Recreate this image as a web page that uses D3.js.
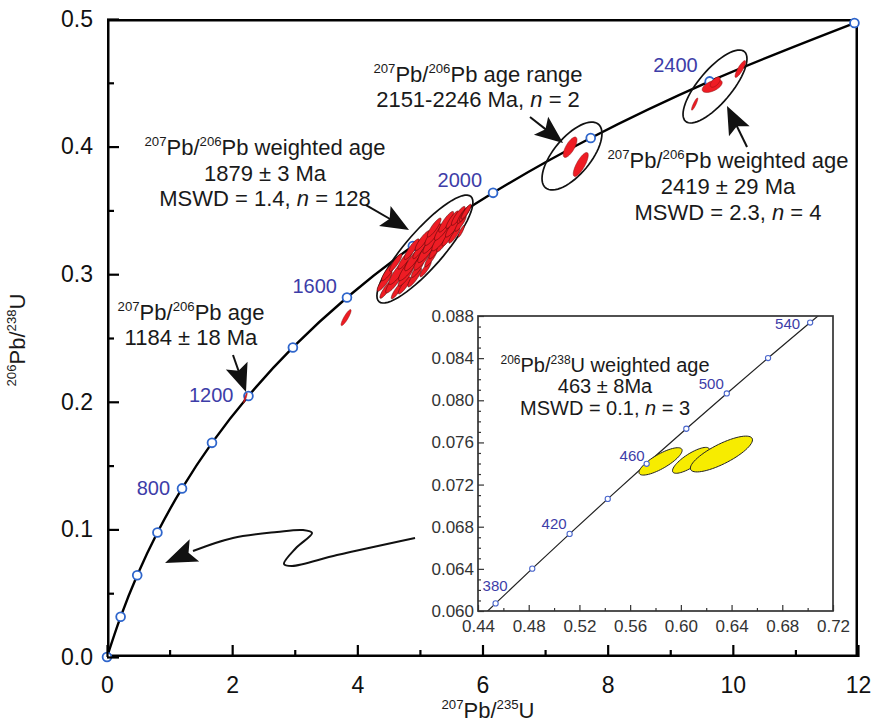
<!doctype html>
<html lang="en">
<head>
<meta charset="utf-8" />
<title>U-Pb concordia</title>
<script src="https://d3js.org/d3.v7.min.js"></script>
<style>
  body { margin: 0; background: #fff; }
  text { font-family: "Liberation Sans", Arial, sans-serif; }
</style>
</head>
<body>
<div id="chart"></div>
<script>
// ---- data ----
// concordia reference points (age Ma, 207Pb/235U, 206Pb/238U)
const cAges = [0, 200, 400, 600, 800, 1000, 1200, 1400, 1600, 1800, 2000, 2200, 2400, 2600];
const c207 = [0, 0.2177, 0.4828, 0.8056, 1.1987, 1.6774, 2.2603, 2.9701, 3.8345, 4.8872, 6.1688, 7.7293, 9.6295, 11.9432];
const c206 = [0, 0.03151, 0.06402, 0.09754, 0.13213, 0.16782, 0.20460, 0.24258, 0.28172, 0.32210, 0.36376, 0.40673, 0.45108, 0.49681];
const cLabelled = [800, 1200, 1600, 2000, 2400];

// inset concordia
const iAges = [360, 380, 400, 420, 440, 460, 480, 500, 520, 540, 560];
const i207 = [0.42553, 0.45387, 0.48279, 0.51226, 0.54234, 0.57302, 0.60431, 0.63622, 0.66877, 0.70197, 0.73588];
const i206 = [0.057434, 0.06072, 0.06402, 0.06732, 0.07064, 0.07397, 0.07730, 0.08065, 0.08401, 0.08738, 0.090755];
const iMarked = [380, 400, 420, 440, 460, 480, 500, 520, 540];
const iLabelled = [380, 420, 460, 500, 540];

// main cluster (~1879 Ma) analyses: x, y, sx, sy
const clX = [4.46, 4.436, 4.632, 4.593, 4.497, 4.754, 4.653, 4.772, 4.614, 4.916, 4.819, 4.767, 4.963, 4.895, 5.091, 4.869, 5.05, 4.997, 5.177, 5.125, 5.044, 5.254, 5.187, 5.366, 5.208, 5.34, 5.228, 5.453, 5.372, 5.55, 5.42, 5.539, 5.518, 5.65, 5.613, 5.697, 5.72, 5.74, 5.66];
const clY = [0.288, 0.2945, 0.287, 0.2943, 0.302, 0.2912, 0.3017, 0.2982, 0.3091, 0.2974, 0.305, 0.3117, 0.3042, 0.3117, 0.3041, 0.3196, 0.3129, 0.3196, 0.3128, 0.3195, 0.3264, 0.3195, 0.3255, 0.3242, 0.3311, 0.3282, 0.3366, 0.3289, 0.3358, 0.3305, 0.3411, 0.3376, 0.3427, 0.3398, 0.3457, 0.3466, 0.3475, 0.349, 0.3336];
const clSx = [0.10, 0.12, 0.09, 0.14, 0.11, 0.10, 0.15, 0.12, 0.10, 0.11, 0.16, 0.12, 0.10, 0.14, 0.09, 0.12, 0.15, 0.11, 0.10, 0.16, 0.12, 0.11, 0.14, 0.10, 0.13, 0.15, 0.11, 0.10, 0.14, 0.09, 0.12, 0.13, 0.10, 0.09, 0.11, 0.10, 0.09, 0.08, 0.05];
const clSy = [0.0069, 0.0078, 0.0063, 0.0090, 0.0071, 0.0067, 0.0098, 0.0076, 0.0069, 0.0074, 0.0101, 0.0078, 0.0067, 0.0090, 0.0062, 0.0081, 0.0097, 0.0074, 0.0069, 0.0104, 0.0078, 0.0074, 0.0092, 0.0067, 0.0085, 0.0099, 0.0074, 0.0069, 0.0092, 0.0062, 0.0081, 0.0085, 0.0069, 0.0062, 0.0074, 0.0067, 0.0062, 0.0058, 0.0046];
const clRho = 0.88;

// other single analyses: x, y, sx, sy, rho
const spX = [2.21, 3.82, 7.40, 7.57, 9.67, 9.72, 10.12, 9.39];
const spY = [0.203, 0.266, 0.3995, 0.386, 0.4474, 0.4505, 0.4608, 0.4333];
const spSx = [0.03, 0.08, 0.11, 0.12, 0.16, 0.08, 0.085, 0.05];
const spSy = [0.0040, 0.0063, 0.0080, 0.0094, 0.0050, 0.0040, 0.0066, 0.0048];
const spRho = [0.9, 0.88, 0.72, 0.78, 0.55, 0.6, 0.85, 0.88];

// group envelopes
const enX = [5.08, 7.43, 9.715];
const enY = [0.3197, 0.3926, 0.4471];
const enSx = [0.767, 0.479, 0.511];
const enSy = [0.0423, 0.0266, 0.0286];
const enRho = [0.866, 0.66, 0.76];

// inset (young) analyses
const yX = [0.584, 0.608, 0.632];
const yY = [0.0742, 0.0743, 0.0749];
const ySx = [0.017, 0.0146, 0.0245];
const ySy = [0.0013, 0.00123, 0.0017];
const yRho = [0.8, 0.8, 0.79];

// axis ticks
const xMajor = [0, 2, 4, 6, 8, 10, 12];
const xMinor = [1, 3, 5, 7, 9, 11];
const yMajor = [0, 0.1, 0.2, 0.3, 0.4, 0.5];
const yMinor = [0.05, 0.15, 0.25, 0.35, 0.45];
const ixMajor = [0.44, 0.48, 0.52, 0.56, 0.60, 0.64, 0.68, 0.72];
const ixMinor = [0.46, 0.50, 0.54, 0.58, 0.62, 0.66, 0.70];
const iyMajor = [0.060, 0.064, 0.068, 0.072, 0.076, 0.080, 0.084, 0.088];
const iyMinor = [0.061, 0.062, 0.063, 0.065, 0.066, 0.067, 0.069, 0.070, 0.071, 0.073, 0.074, 0.075,
  0.077, 0.078, 0.079, 0.081, 0.082, 0.083, 0.085, 0.086, 0.087];

// ---- drawing ----
const W = 872, H = 728;
const svg = d3.select("#chart").append("svg").attr("width", W).attr("height", H);

const x = d3.scaleLinear().domain([0, 12]).range([107, 858]);
const y = d3.scaleLinear().domain([0, 0.5]).range([657, 19]);
const xi = d3.scaleLinear().domain([0.44, 0.72]).range([478, 833]);
const yi = d3.scaleLinear().domain([0.060, 0.088]).range([611, 316]);

const blue = "#3d3da8";
const markBlue = "#2f66cc";

function ellipsePts(cx, cy, sx, sy, rho) {
  const k = Math.sqrt(1 - rho * rho);
  return d3.range(0, 64).map(i => {
    const t = i / 64 * 2 * Math.PI;
    return [cx + sx * Math.cos(t), cy + sy * (rho * Math.cos(t) + k * Math.sin(t))];
  });
}

// rich text: parts are [string, kind] with kind '', 'sup' or 'it'
function rich(g, px, py, parts, size, anchor) {
  const t = g.append("text").attr("x", px).attr("y", py)
    .attr("text-anchor", anchor || "middle")
    .style("font-size", size + "px").attr("fill", "#1a1a1a");
  let raised = false;
  parts.forEach(([s, kind]) => {
    const ts = t.append("tspan").text(s);
    if (kind === "sup") {
      ts.style("font-size", (size * 0.6) + "px");
      if (!raised) { ts.attr("dy", -size * 0.4); raised = true; }
    } else {
      if (raised) { ts.attr("dy", size * 0.4); raised = false; }
      if (kind === "it") ts.style("font-style", "italic");
    }
  });
  return t;
}

function arrowHead(g, tip, from, len, hw) {
  const dx = tip[0] - from[0], dy = tip[1] - from[1];
  const L = Math.hypot(dx, dy), ux = dx / L, uy = dy / L;
  const bx = tip[0] - ux * len, by = tip[1] - uy * len;
  const nx = tip[0] - ux * len * 0.8, ny = tip[1] - uy * len * 0.8;
  g.append("polygon")
    .attr("points", [[tip[0], tip[1]], [bx - uy * hw, by + ux * hw], [nx, ny], [bx + uy * hw, by - ux * hw]].map(p => p.join(",")).join(" "))
    .attr("fill", "#111");
}

// clip for main plot
svg.append("clipPath").attr("id", "mainClip").append("rect")
  .attr("x", 107).attr("y", 19).attr("width", 751).attr("height", 638);

const main = svg.append("g");
const lineG = main.append("g").attr("clip-path", "url(#mainClip)");
const markG = main.append("g");
const plot = main.append("g").attr("clip-path", "url(#mainClip)");

// concordia
const cPts = cAges.map((a, i) => [c207[i], c206[i]]);
lineG.append("path")
  .attr("d", d3.line().x(d => x(d[0])).y(d => y(d[1])).curve(d3.curveCatmullRom.alpha(0.5))(cPts))
  .attr("fill", "none").attr("stroke", "#000").attr("stroke-width", 2.4);

// frame
lineG.append("rect").attr("x", 107).attr("y", 19).attr("width", 751).attr("height", 638)
  .attr("fill", "none").attr("stroke", "#000").attr("stroke-width", 5);

// age markers (unclipped so the end points stay whole, under the analyses)
markG.selectAll("circle").data(cPts).join("circle")
  .attr("cx", d => x(d[0])).attr("cy", d => y(d[1])).attr("r", 4.4)
  .attr("fill", "#fff").attr("stroke", markBlue).attr("stroke-width", 1.8);

const ellLine = d3.line().x(d => x(d[0])).y(d => y(d[1])).curve(d3.curveLinearClosed);

// envelopes
enX.forEach((v, i) => {
  plot.append("path").attr("d", ellLine(ellipsePts(v, enY[i], enSx[i], enSy[i], enRho[i])))
    .attr("fill", "none").attr("stroke", "#111").attr("stroke-width", 1.7);
});

// analyses
clX.forEach((v, i) => {
  plot.append("path").attr("d", ellLine(ellipsePts(v, clY[i], clSx[i], clSy[i], clRho)))
    .attr("fill", "#ee1c24").attr("stroke", "#4a0808").attr("stroke-width", 0.55);
});
spX.forEach((v, i) => {
  plot.append("path").attr("d", ellLine(ellipsePts(v, spY[i], spSx[i], spSy[i], spRho[i])))
    .attr("fill", "#ee1c24").attr("stroke", "#8a1010").attr("stroke-width", 0.5);
});

// age labels on concordia
const lblOff = { 800: [-12, 7], 1200: [-15, 6], 1600: [-10, -5], 2000: [-11, -6], 2400: [-12, -9] };
cLabelled.forEach(a => {
  const i = cAges.indexOf(a);
  main.append("text").attr("x", x(c207[i]) + lblOff[a][0]).attr("y", y(c206[i]) + lblOff[a][1])
    .attr("text-anchor", "end").style("font-size", "20px").attr("fill", blue).text(a);
});

// axes
main.append("g").attr("transform", "translate(0,657)")
  .call(d3.axisBottom(x).tickValues(xMajor).tickSizeInner(-12).tickSizeOuter(0).tickPadding(20).tickFormat(d3.format("d")));
main.append("g").attr("transform", "translate(0,657)")
  .call(d3.axisBottom(x).tickValues(xMinor).tickSizeInner(-7).tickSizeOuter(0).tickFormat(""));
main.append("g").attr("transform", "translate(107,0)")
  .call(d3.axisLeft(y).tickValues(yMajor).tickSizeInner(-12).tickSizeOuter(0).tickPadding(14).tickFormat(d3.format(".1f")));
main.append("g").attr("transform", "translate(107,0)")
  .call(d3.axisLeft(y).tickValues(yMinor).tickSizeInner(-7).tickSizeOuter(0).tickFormat(""));
main.selectAll(".domain").remove();
main.selectAll(".tick line").attr("stroke", "#000").attr("stroke-width", 2.2);
main.selectAll(".tick text").style("font-size", "23px").style("font-family", "'Liberation Sans', Arial, sans-serif").attr("fill", "#111");

// axis titles
rich(svg, 488, 718, [["207", "sup"], ["Pb/", ""], ["235", "sup"], ["U", ""]], 22);
rich(svg.append("g").attr("transform", "translate(25,340) rotate(-90)"), 0, 0,
  [["206", "sup"], ["Pb/", ""], ["238", "sup"], ["U", ""]], 22);

// annotations (anchor in data units, line spacing in px)
function block(cx, cy, lines, size, gap) {
  lines.forEach((parts, k) => rich(main, x(cx), y(cy) + k * gap, parts, size));
}
block(2.525, 0.3934, [
  [["207", "sup"], ["Pb/", ""], ["206", "sup"], ["Pb weighted age", ""]],
  [["1879 \u00b1 3 Ma", ""]],
  [["MSWD = 1.4, ", ""], ["n", "it"], [" = 128", ""]]
], 22, 25.5);
block(5.928, 0.4506, [
  [["207", "sup"], ["Pb/", ""], ["206", "sup"], ["Pb age range", ""]],
  [["2151-2246 Ma, ", ""], ["n", "it"], [" = 2", ""]]
], 22, 24.5);
block(9.923, 0.3832, [
  [["207", "sup"], ["Pb/", ""], ["206", "sup"], ["Pb weighted age", ""]],
  [["2419 \u00b1 29 Ma", ""]],
  [["MSWD = 2.3, ", ""], ["n", "it"], [" = 4", ""]]
], 22, 26);
block(1.342, 0.2641, [
  [["207", "sup"], ["Pb/", ""], ["206", "sup"], ["Pb age", ""]],
  [["1184 \u00b1 18 Ma", ""]]
], 22, 25);

// arrows (data units)
const arrows = [
  [[4.139, 0.3542], [4.826, 0.3346]],
  [[6.759, 0.4232], [7.287, 0.4028]],
  [[10.227, 0.3997], [9.907, 0.4318]],
  [[2.013, 0.2367], [2.221, 0.2077]]
];
arrows.forEach(([a, b]) => {
  const p0 = [x(a[0]), y(a[1])], p1 = [x(b[0]), y(b[1])];
  const dx = p1[0] - p0[0], dy = p1[1] - p0[1], L = Math.hypot(dx, dy);
  main.append("line").attr("x1", p0[0]).attr("y1", p0[1])
    .attr("x2", p1[0] - dx / L * 20).attr("y2", p1[1] - dy / L * 20)
    .attr("stroke", "#111").attr("stroke-width", 2);
  arrowHead(main, p1, p0, 28, 11.5);
});

// S-shaped pointer from inset to young part of concordia
const sPath = [[4.922, 0.0933], [3.675, 0.0799], [2.956, 0.0713], [2.828, 0.0729], [3.020, 0.0854],
  [3.276, 0.0972], [3.132, 0.0995], [2.717, 0.0980], [2.013, 0.0933], [1.374, 0.0831]];
const sTip = [0.927, 0.0737];
main.append("path")
  .attr("d", d3.line().x(d => x(d[0])).y(d => y(d[1])).curve(d3.curveCatmullRom.alpha(0.5))(sPath))
  .attr("fill", "none").attr("stroke", "#111").attr("stroke-width", 2);
arrowHead(main, [x(sTip[0]), y(sTip[1])], [x(sPath[sPath.length - 1][0]), y(sPath[sPath.length - 1][1])], 32, 12);

// ---- inset ----
const inset = svg.append("g");
inset.append("rect").attr("x", 478).attr("y", 316).attr("width", 355).attr("height", 295).attr("fill", "#fff");
inset.append("clipPath").attr("id", "insetClip").append("rect")
  .attr("x", 478).attr("y", 316).attr("width", 355).attr("height", 295);
const ip = inset.append("g").attr("clip-path", "url(#insetClip)");

const iPts = iAges.map((a, i) => [i207[i], i206[i]]);
ip.append("path")
  .attr("d", d3.line().x(d => xi(d[0])).y(d => yi(d[1])).curve(d3.curveCatmullRom)(iPts))
  .attr("fill", "none").attr("stroke", "#222").attr("stroke-width", 1.2);

const iEll = d3.line().x(d => xi(d[0])).y(d => yi(d[1])).curve(d3.curveLinearClosed);
yX.forEach((v, i) => {
  ip.append("path").attr("d", iEll(ellipsePts(v, yY[i], ySx[i], ySy[i], yRho[i])))
    .attr("fill", "#f7ec00").attr("stroke", "#222").attr("stroke-width", 1);
});

ip.selectAll("circle.iage").data(iMarked).join("circle")
  .attr("cx", a => xi(i207[iAges.indexOf(a)])).attr("cy", a => yi(i206[iAges.indexOf(a)]))
  .attr("r", 2.6).attr("fill", "#fff").attr("stroke", "#4a66cc").attr("stroke-width", 1.1);

const iOff = { 380: [12, -12], 420: [-3, -5], 460: [-2, -3], 500: [-3, -4], 540: [-10, 6] };
iLabelled.forEach(a => {
  const i = iAges.indexOf(a);
  inset.append("text").attr("x", xi(i207[i]) + iOff[a][0]).attr("y", yi(i206[i]) + iOff[a][1])
    .attr("text-anchor", "end").style("font-size", "15px").attr("fill", blue).text(a);
});

inset.append("rect").attr("x", 478).attr("y", 316).attr("width", 355).attr("height", 295)
  .attr("fill", "none").attr("stroke", "#333").attr("stroke-width", 1.7);

inset.append("g").attr("transform", "translate(0,611)")
  .call(d3.axisBottom(xi).tickValues(ixMajor).tickSizeInner(-6).tickSizeOuter(0).tickPadding(9).tickFormat(d3.format(".2f")));
inset.append("g").attr("transform", "translate(0,611)")
  .call(d3.axisBottom(xi).tickValues(ixMinor).tickSizeInner(-3).tickSizeOuter(0).tickFormat(""));
inset.append("g").attr("transform", "translate(478,0)")
  .call(d3.axisLeft(yi).tickValues(iyMajor).tickSizeInner(-6).tickSizeOuter(0).tickPadding(4).tickFormat(d3.format(".3f")));
inset.append("g").attr("transform", "translate(478,0)")
  .call(d3.axisLeft(yi).tickValues(iyMinor).tickSizeInner(-3).tickSizeOuter(0).tickFormat(""));
inset.selectAll(".domain").remove();
inset.selectAll(".tick line").attr("stroke", "#333").attr("stroke-width", 1.2);
inset.selectAll(".tick text").style("font-size", "17px").style("font-family", "'Liberation Sans', Arial, sans-serif").attr("fill", "#333");

[
  [["206", "sup"], ["Pb/", ""], ["238", "sup"], ["U weighted age", ""]],
  [["463 \u00b1 8Ma", ""]],
  [["MSWD = 0.1, ", ""], ["n", "it"], [" = 3", ""]]
].forEach((parts, k) => rich(inset, xi(0.5402), yi(0.0827) + k * 21.5, parts, 20));
</script>
</body>
</html>
